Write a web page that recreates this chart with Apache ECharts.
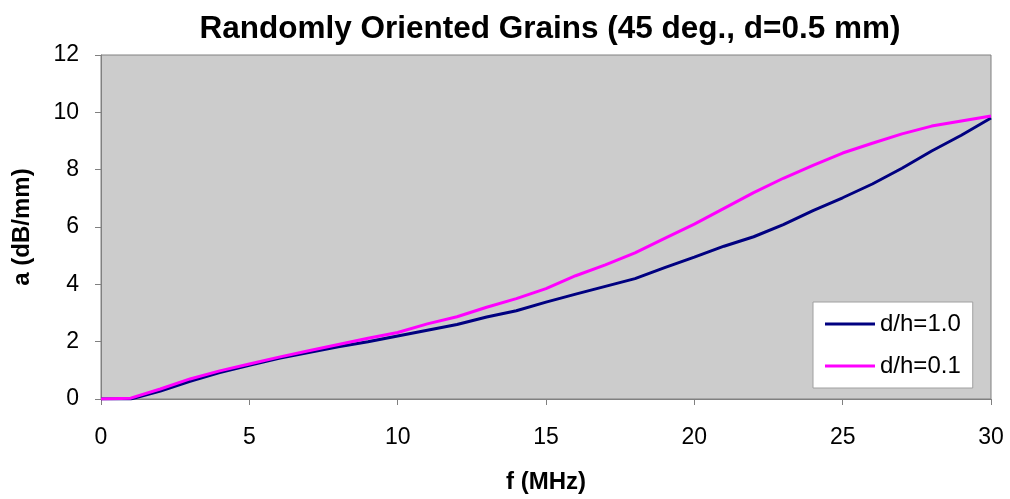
<!DOCTYPE html>
<html>
<head>
<meta charset="utf-8">
<script src="https://cdn.jsdelivr.net/npm/echarts@6/dist/echarts.min.js"></script>
<style>
html,body{margin:0;padding:0;background:#fff;}
#chart{width:1010px;height:499px;}
</style>
</head>
<body>
<div id="chart"></div>
<script>
var freq = [0,1,2,3,4,5,6,7,8,9,10,11,12,13,14,15,16,17,18,19,20,21,22,23,24,25,26,27,28,29,30];
var dh10 = [0,0,0.28,0.62,0.92,1.18,1.42,1.62,1.82,2.0,2.2,2.4,2.6,2.86,3.08,3.38,3.66,3.93,4.2,4.58,4.95,5.33,5.66,6.08,6.57,7.02,7.5,8.05,8.65,9.2,9.8];
var dh01 = [0,0.03,0.35,0.7,0.98,1.22,1.46,1.68,1.9,2.12,2.32,2.62,2.87,3.2,3.5,3.85,4.3,4.68,5.1,5.6,6.1,6.65,7.2,7.7,8.15,8.58,8.92,9.25,9.52,9.7,9.87];
var yTicks = [0,2,4,6,8,10,12];
var xTicks = [0,5,10,15,20,25,30];

function pairs(v){ return freq.map(function(f,i){ return [f, v[i]]; }); }

var chart = echarts.init(document.getElementById('chart'));
var font = '"Liberation Sans", Arial, sans-serif';
chart.setOption({
  animation: false,
  backgroundColor: '#ffffff',
  title: {
    text: 'Randomly Oriented Grains (45 deg., d=0.5 mm)',
    left: 545, top: 8, textAlign: 'center',
    textStyle: {fontFamily: font, fontWeight: 'bold', fontSize: 31.5, color: '#000'}
  },
  grid: {left: 101, right: 19, top: 55, bottom: 100, show: true, backgroundColor: '#cccccc', borderColor: '#808080', borderWidth: 1},
  legend: {
    orient: 'vertical', left: 813, top: 302,
    backgroundColor: '#ffffff', borderColor: '#a0a0a0', borderWidth: 1,
    padding: [10, 12, 10, 12], itemGap: 18,
    itemWidth: 50, itemHeight: 3, icon: 'rect',
    textStyle: {fontFamily: font, fontSize: 24, color: '#000'},
    data: ['d/h=1.0', 'd/h=0.1']
  },
  xAxis: {
    type: 'value', min: 0, max: 30, interval: 5,
    name: 'f (MHz)', nameLocation: 'middle', nameGap: 71,
    nameTextStyle: {fontFamily: font, fontWeight: 'bold', fontSize: 24, color: '#000'},
    axisLine: {show: true, lineStyle: {color: '#808080', width: 1}},
    axisTick: {show: true, inside: false, length: 6, lineStyle: {color: '#808080'}},
    axisLabel: {fontFamily: font, fontSize: 23, color: '#000', margin: 27},
    splitLine: {show: false}
  },
  yAxis: {
    type: 'value', min: 0, max: 12, interval: 2,
    name: 'a (dB/mm)', nameLocation: 'middle', nameGap: 67, nameRotate: 90,
    nameTextStyle: {fontFamily: font, fontWeight: 'bold', fontSize: 24, color: '#000'},
    axisLine: {show: true, lineStyle: {color: '#808080', width: 1}},
    axisTick: {show: true, inside: false, length: 6, lineStyle: {color: '#808080'}},
    axisLabel: {fontFamily: font, fontSize: 23, color: '#000', margin: 22},
    splitLine: {show: false}
  },
  series: [
    {name: 'd/h=1.0', type: 'line', data: pairs(dh10), showSymbol: false, symbol: 'none',
     lineStyle: {color: '#000080', width: 3}, itemStyle: {color: '#000080'}},
    {name: 'd/h=0.1', type: 'line', data: pairs(dh01), showSymbol: false, symbol: 'none',
     lineStyle: {color: '#ff00ff', width: 3}, itemStyle: {color: '#ff00ff'}}
  ]
});
</script>
</body>
</html>
